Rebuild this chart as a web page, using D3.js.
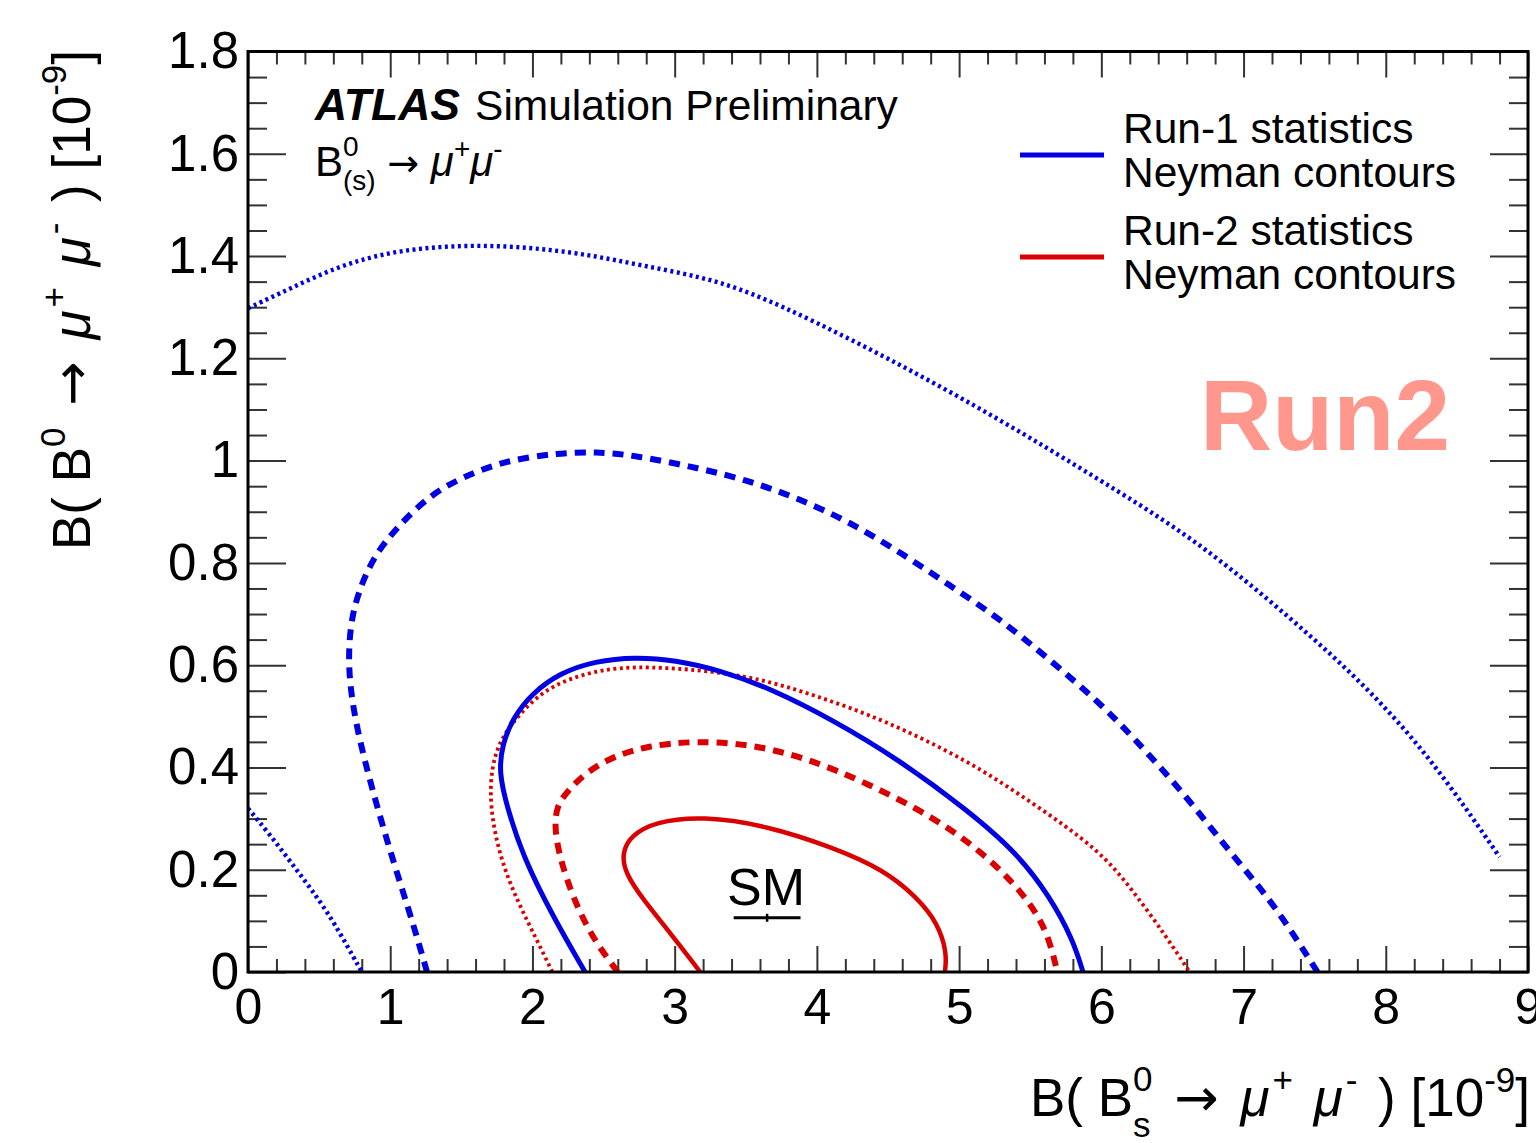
<!DOCTYPE html>
<html>
<head>
<meta charset="utf-8">
<script src="https://cdn.jsdelivr.net/npm/d3@7"></script>
<style>
  body { margin: 0; background: #fff; }
  svg { display: block; }
  text { font-family: "Liberation Sans", Arial, Helvetica, sans-serif; fill: #000; white-space: pre; }
</style>
</head>
<body>
<svg id="chart" width="1536" height="1143"></svg>
<script>
// ---- data: Neyman confidence contours in the (B(Bs), B(Bd)) plane, units of 1e-9 ----
const run1Contour68 = [[2.37,0],[2.145,0.108],[1.934,0.225],[1.821,0.323],[1.765,0.389],[1.786,0.444],[1.863,0.497],[1.997,0.545],[2.194,0.585],[2.44,0.608],[2.721,0.616],[3.002,0.61],[3.319,0.59],[3.67,0.555],[4.113,0.493],[4.584,0.414],[5.056,0.317],[5.407,0.233],[5.639,0.147],[5.801,0.063],[5.871,0]];
const run1Contour95 = [[1.259,0],[1.153,0.102],[1.041,0.199],[0.935,0.297],[0.837,0.395],[0.752,0.493],[0.703,0.59],[0.717,0.678],[0.773,0.741],[0.879,0.811],[1.048,0.87],[1.28,0.933],[1.512,0.968],[1.793,0.999],[2.173,1.015],[2.454,1.017],[2.707,1.011],[3.18,0.985],[3.53,0.96],[3.88,0.925],[4.23,0.88],[4.59,0.82],[4.94,0.755],[5.29,0.69],[5.64,0.61],[5.99,0.526],[6.22,0.46],[6.58,0.35],[6.93,0.225],[7.21,0.135],[7.52,0]];
const run1Contour997 = [[0,1.298],[0.3,1.337],[0.65,1.382],[1.0,1.408],[1.35,1.419],[1.7,1.421],[2.05,1.415],[2.41,1.402],[2.76,1.382],[3.18,1.36],[3.53,1.33],[4.0,1.27],[4.5,1.2],[5.0,1.125],[5.5,1.045],[6.0,0.96],[6.67,0.845],[7.35,0.688],[7.87,0.557],[8.33,0.414],[8.8,0.225]];
const run1Contour997Low = [[0,0.32],[0.15,0.27],[0.3,0.215],[0.45,0.16],[0.6,0.1],[0.8,0]];
const run2Contour68 = [[3.18,0],[2.97,0.076],[2.78,0.141],[2.65,0.194],[2.63,0.233],[2.69,0.266],[2.86,0.294],[3.2,0.305],[3.65,0.286],[4.11,0.244],[4.47,0.2],[4.70,0.147],[4.85,0.096],[4.915,0.037],[4.90,0]];
const run2Contour95 = [[2.6,0],[2.43,0.063],[2.29,0.141],[2.19,0.225],[2.155,0.283],[2.17,0.325],[2.25,0.355],[2.38,0.391],[2.57,0.422],[2.81,0.442],[3.13,0.452],[3.53,0.446],[3.93,0.418],[4.35,0.37],[4.82,0.303],[5.17,0.233],[5.45,0.155],[5.62,0.082],[5.69,0]];
const run2Contour997 = [[2.14,0],[2.03,0.063],[1.89,0.141],[1.77,0.225],[1.70,0.323],[1.71,0.401],[1.78,0.458],[1.91,0.505],[2.07,0.548],[2.26,0.574],[2.50,0.592],[2.74,0.597],[3.09,0.593],[3.55,0.578],[4.0,0.54],[4.47,0.493],[5.06,0.414],[5.52,0.33],[5.99,0.238],[6.22,0.16],[6.46,0.068],[6.62,0]];

// Standard Model prediction: central value and uncertainty
const smBs = 3.65, smBsErr = 0.235, smBd = 0.106;

// axis ticks and labels
const xMajorTicks = [0,1,2,3,4,5,6,7,8,9];
const xTickLabels = ["0","1","2","3","4","5","6","7","8","9"];
const yMajorTicks = [0,0.2,0.4,0.6,0.8,1,1.2,1.4,1.6,1.8];
const yTickLabels = ["0","0.2","0.4","0.6","0.8","1","1.2","1.4","1.6","1.8"];

const legendLabels = [["Run-1 statistics","Neyman contours"],["Run-2 statistics","Neyman contours"]];

// ---- drawing ----
const BLUE = "#0000e2", RED = "#da0000";
const ARROW_FONT = "DejaVu Sans";
const styles = {
  solid:  { width: 5,   dash: null },
  dashed: { width: 6,   dash: "11,8" },
  dotted: { width: 4.4, dash: "3,3.5" }
};
const contours = [
  { data: run1Contour997,    color: BLUE, style: "dotted" },
  { data: run1Contour997Low, color: BLUE, style: "dotted" },
  { data: run1Contour95,     color: BLUE, style: "dashed" },
  { data: run2Contour997,    color: RED,  style: "dotted", width: 3.8 },
  { data: run1Contour68,     color: BLUE, style: "solid" },
  { data: run2Contour95,     color: RED,  style: "dashed" },
  { data: run2Contour68,     color: RED,  style: "solid", width: 4.5 }
];

const svg = d3.select("#chart");
const L = 248, R = 1528, T = 51.5, B = 972;
const x = d3.scaleLinear().domain([0, 9]).range([L, R]);
const y = d3.scaleLinear().domain([0, 1.8]).range([B, T]);

const xMinor = d3.range(0, 9.0001, 0.2).filter(v => Math.abs(v - Math.round(v)) > 1e-6);
const yMinor = d3.range(0, 1.8001, 0.05).filter(v => Math.abs(v * 5 - Math.round(v * 5)) > 1e-6);

svg.append("defs").append("clipPath").attr("id", "plotArea")
  .append("rect").attr("x", L).attr("y", T).attr("width", R - L).attr("height", B - T);

function styleTicks(g) {
  g.select(".domain").remove();
  g.selectAll(".tick line").attr("stroke", "#333").attr("stroke-width", 2);
}

// minor ticks
svg.append("g").attr("transform", `translate(0,${B})`)
  .call(d3.axisBottom(x).tickValues(xMinor).tickSize(-13).tickFormat(""))
  .call(styleTicks);
svg.append("g").attr("transform", `translate(0,${T})`)
  .call(d3.axisTop(x).tickValues(xMinor).tickSize(-13).tickFormat(""))
  .call(styleTicks);
svg.append("g").attr("transform", `translate(${L},0)`)
  .call(d3.axisLeft(y).tickValues(yMinor).tickSize(-19).tickFormat(""))
  .call(styleTicks);
svg.append("g").attr("transform", `translate(${R},0)`)
  .call(d3.axisRight(y).tickValues(yMinor).tickSize(-19).tickFormat(""))
  .call(styleTicks);

// major ticks with labels
const xAxis = svg.append("g").attr("transform", `translate(0,${B})`)
  .call(d3.axisBottom(x).tickValues(xMajorTicks).tickSize(-26).tickPadding(16)
    .tickFormat((d, i) => xTickLabels[i]))
  .call(styleTicks);
xAxis.selectAll("text").attr("font-size", 50).attr("font-family", null).attr("fill", "#000");
svg.append("g").attr("transform", `translate(0,${T})`)
  .call(d3.axisTop(x).tickValues(xMajorTicks).tickSize(-26).tickFormat(""))
  .call(styleTicks);

const yAxis = svg.append("g").attr("transform", `translate(${L},0)`)
  .call(d3.axisLeft(y).tickValues(yMajorTicks).tickSize(-38).tickPadding(9)
    .tickFormat((d, i) => yTickLabels[i]))
  .call(styleTicks);
yAxis.selectAll("text").attr("font-size", 51).attr("font-family", null).attr("fill", "#000");
svg.append("g").attr("transform", `translate(${R},0)`)
  .call(d3.axisRight(y).tickValues(yMajorTicks).tickSize(-38).tickFormat(""))
  .call(styleTicks);

// contours
const line = d3.line().x(d => x(d[0])).y(d => y(d[1])).curve(d3.curveBasis);
const plot = svg.append("g").attr("clip-path", "url(#plotArea)");
contours.forEach(c => {
  const st = styles[c.style];
  plot.append("path")
    .attr("d", line(c.data))
    .attr("fill", "none")
    .attr("stroke", c.color)
    .attr("stroke-width", c.width || st.width)
    .attr("stroke-dasharray", st.dash)
    .attr("stroke-linejoin", "round");
});

// frame
svg.append("rect").attr("x", L).attr("y", T).attr("width", R - L).attr("height", B - T)
  .attr("fill", "none").attr("stroke", "#000").attr("stroke-width", 3);

// SM point with horizontal uncertainty
const sm = svg.append("g");
sm.append("line").attr("x1", x(smBs - smBsErr)).attr("x2", x(smBs + smBsErr))
  .attr("y1", y(smBd)).attr("y2", y(smBd)).attr("stroke", "#000").attr("stroke-width", 3);
sm.append("line").attr("x1", x(smBs)).attr("x2", x(smBs))
  .attr("y1", y(smBd) - 4).attr("y2", y(smBd) + 4).attr("stroke", "#000").attr("stroke-width", 2.5);
sm.append("text").attr("x", x(smBs) - 1).attr("y", 905).attr("text-anchor", "middle")
  .attr("font-size", 52).text("SM");

// rich text: sequence of pieces, optional stacked super/subscripts
function rich(parent, parts, opts) {
  const g = parent.append("g");
  const inner = g.append("g");
  let cx = 0, stackStart = null, stackW = 0;
  parts.forEach(p => {
    const sx = stackStart !== null ? stackStart : cx;
    const t = inner.append("text")
      .attr("xml:space", "preserve")
      .attr("x", sx + (p.dx || 0)).attr("y", p.dy || 0)
      .attr("font-size", p.s || opts.size)
      .attr("font-style", p.i ? "italic" : null)
      .attr("font-weight", p.b ? "bold" : null)
      .attr("fill", opts.fill || "#000")
      .text(p.t);
    if (p.f) t.style("font-family", p.f);
    const w = t.node().getComputedTextLength() + (p.dx || 0) + (p.pad || 0);
    if (p.stack) { stackStart = sx; stackW = w; cx = sx + w; }
    else if (stackStart !== null) { cx = stackStart + Math.max(w, stackW); stackStart = null; }
    else cx = sx + w;
  });
  const shift = opts.anchor === "end" ? -cx : opts.anchor === "middle" ? -cx / 2 : 0;
  inner.attr("transform", `translate(${shift},0)`);
  g.attr("transform", `translate(${opts.x},${opts.y})` + (opts.rotate ? ` rotate(${opts.rotate})` : ""));
  return g;
}

// x-axis title
rich(svg, [
  { t: "B( B" },
  { t: "0", s: 35, dy: -25, stack: true },
  { t: "s", s: 35, dy: 21 },
  { t: " ", pad: 7 },
  { t: "\u2192", f: ARROW_FONT },
  { t: " ", pad: 7 },
  { t: "\u03bc", i: true },
  { t: "+", s: 35, dy: -24, dx: 3 },
  { t: " ", pad: 6 },
  { t: "\u03bc", i: true },
  { t: "-", s: 35, dy: -24, dx: 3 },
  { t: " ", pad: 6 },
  { t: ") [10" },
  { t: "-9", s: 35, dy: -24 },
  { t: "]" }
], { x: 1530, y: 1116, anchor: "end", size: 53 });

// y-axis title
rich(svg, [
  { t: "B( B" },
  { t: "0", s: 35, dy: -25 },
  { t: " ", pad: 7 },
  { t: "\u2192", f: ARROW_FONT },
  { t: " ", pad: 7 },
  { t: "\u03bc", i: true },
  { t: "+", s: 35, dy: -24, dx: 3 },
  { t: " ", pad: 6 },
  { t: "\u03bc", i: true },
  { t: "-", s: 35, dy: -24, dx: 3 },
  { t: " ", pad: 6 },
  { t: ") [10" },
  { t: "-9", s: 35, dy: -24 },
  { t: "]" }
], { x: 90, y: 50, anchor: "end", size: 53, rotate: -90 });

// experiment label
rich(svg, [
  { t: "ATLAS", b: true, i: true, s: 44.5, pad: 15 },
  { t: "Simulation Preliminary" }
], { x: 315, y: 120, size: 42.5 });

rich(svg, [
  { t: "B" },
  { t: "0", s: 28, dy: -20, stack: true },
  { t: "(s)", s: 28, dy: 14 },
  { t: " " },
  { t: "\u2192", f: ARROW_FONT, s: 38 },
  { t: " " },
  { t: "\u03bc", i: true },
  { t: "+", s: 28, dy: -18 },
  { t: "\u03bc", i: true },
  { t: "-", s: 28, dy: -18 }
], { x: 315, y: 176, size: 42 });

// legend
const legend = svg.append("g");
[BLUE, RED].forEach((col, i) => {
  const yc = i === 0 ? 155 : 257;
  legend.append("line").attr("x1", 1020).attr("x2", 1104).attr("y1", yc).attr("y2", yc)
    .attr("stroke", col).attr("stroke-width", 5);
  legend.append("text").attr("x", 1123).attr("y", yc - 12).attr("font-size", 42.5).text(legendLabels[i][0]);
  legend.append("text").attr("x", 1123).attr("y", yc + 32).attr("font-size", 42.5).text(legendLabels[i][1]);
});

// run label
svg.append("text").attr("x", 1200).attr("y", 450).attr("font-size", 100).attr("font-weight", "bold")
  .style("fill", "#ff978c").text("Run2");
</script>
</body>
</html>
